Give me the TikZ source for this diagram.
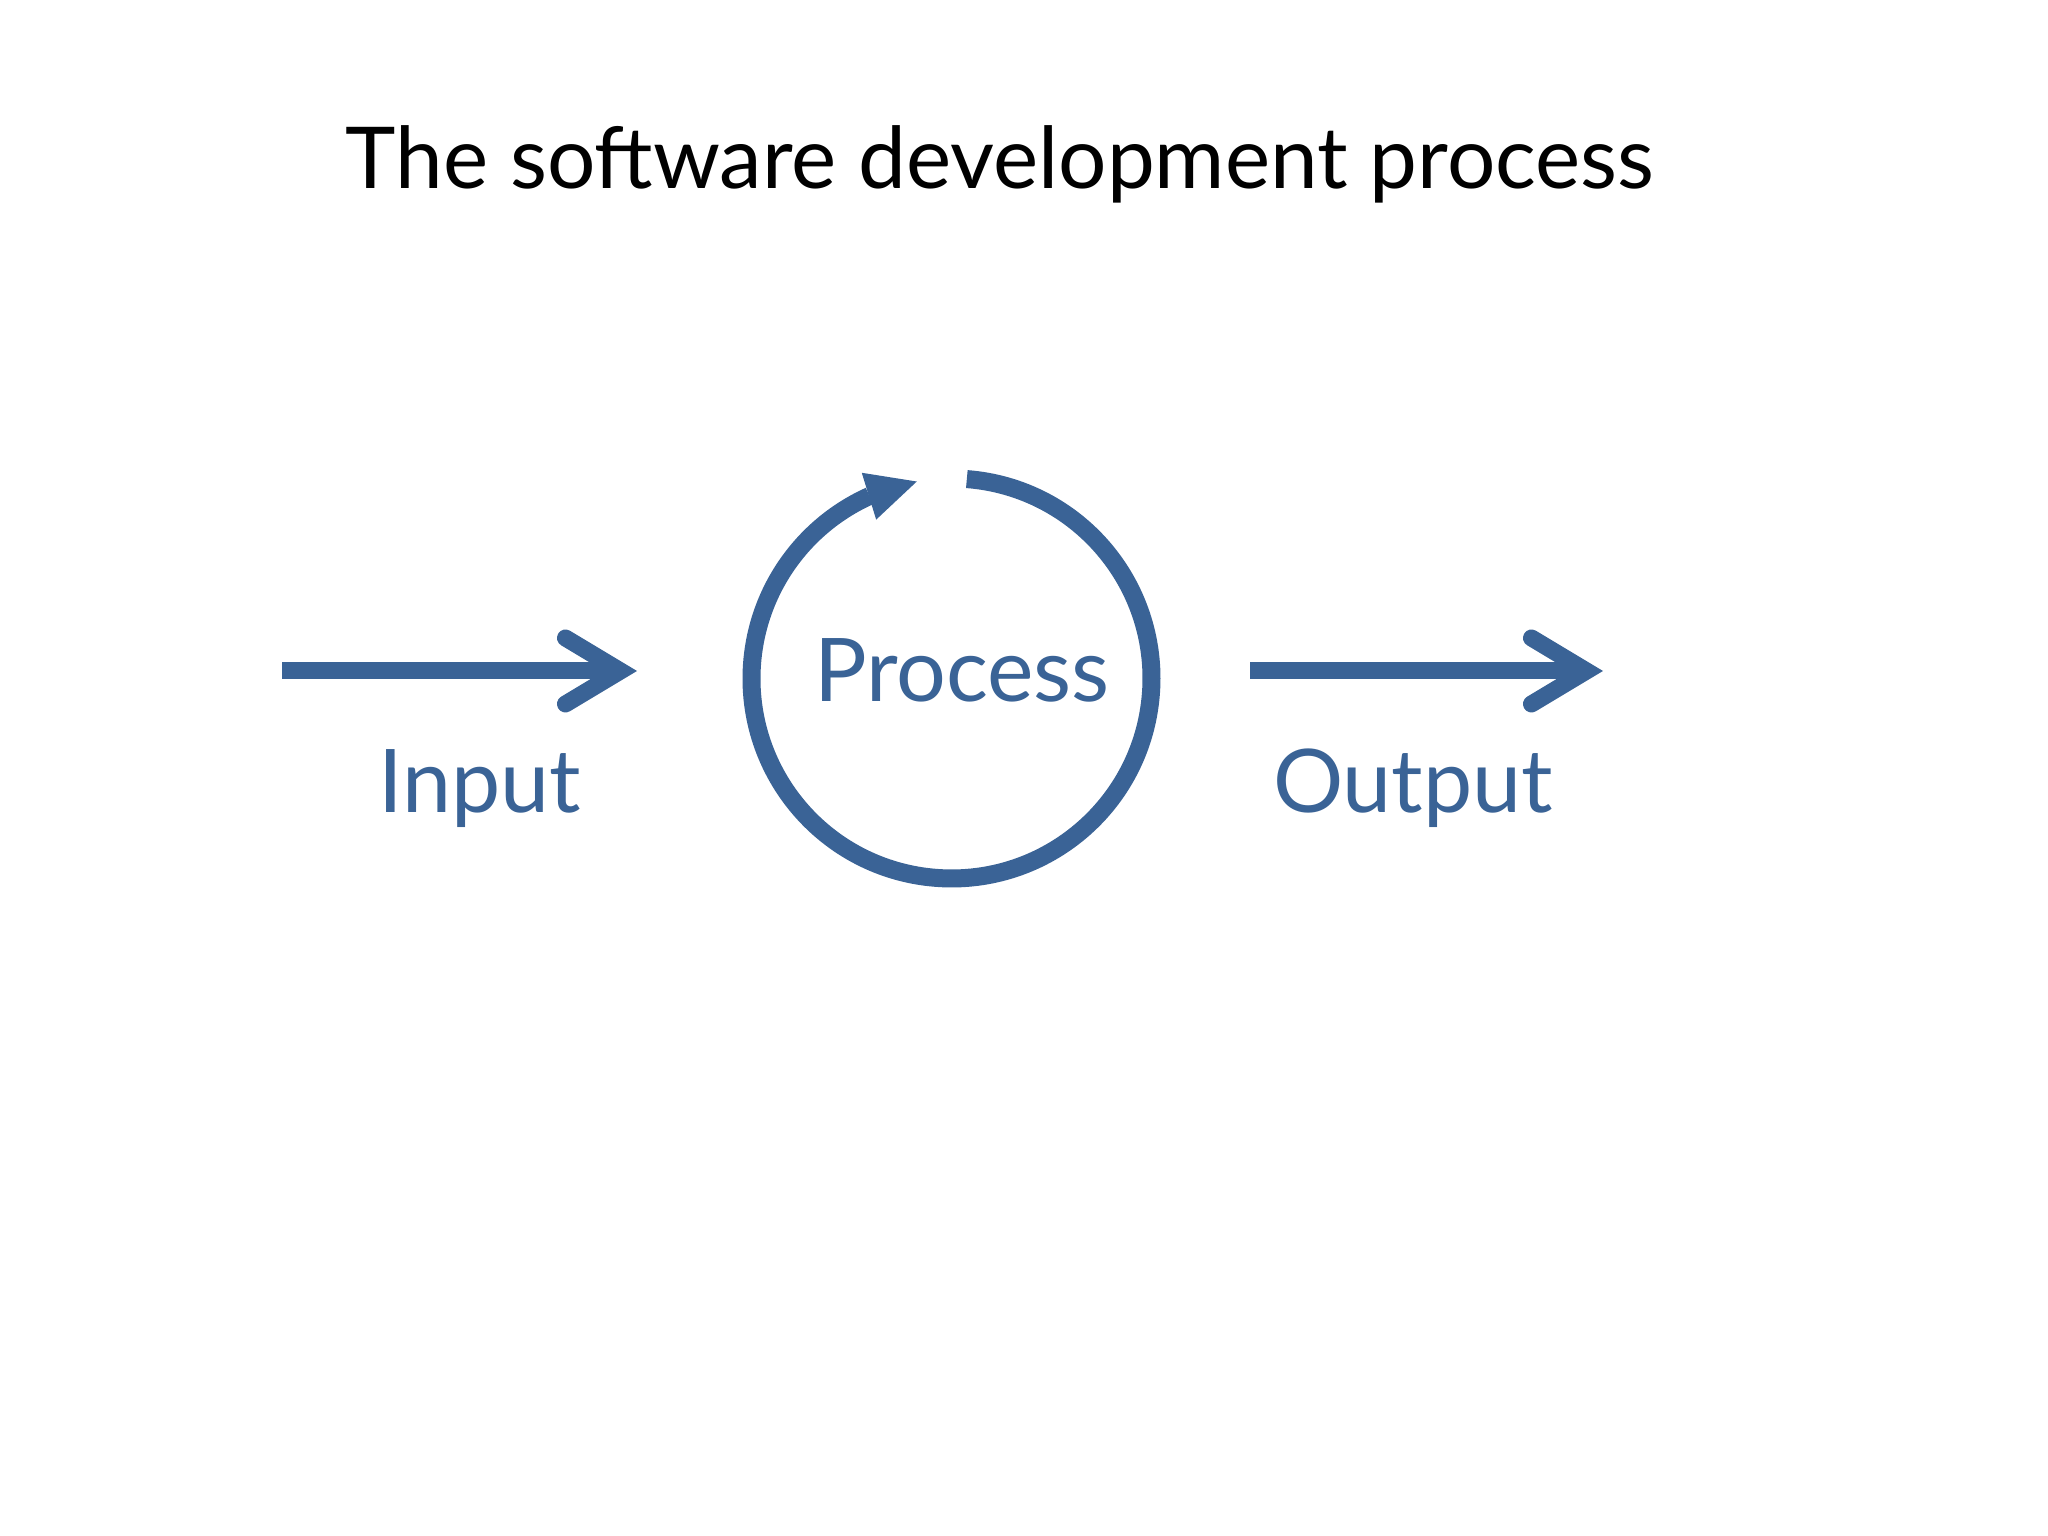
\documentclass[tikz,border=0pt]{standalone}
\usepackage{fontspec}
\setmainfont{Lato}
\usetikzlibrary{arrows.meta, bending, positioning}
\definecolor{flow}{HTML}{3A6396}
\definecolor{heading}{HTML}{000000}
\tikzset{
  flowline/.style={line width=1.7mm, draw=flow,
    -{Straight Barb[length=5.5mm, width=6.6mm, line cap=round, line join=miter]}},
  loopline/.style={line width=1.8mm, draw=flow,
    -{Triangle[flex, length=5mm, width=4.9mm, line width=0pt]}},
  flowlbl/.style={font=\fontsize{25}{30}\selectfont, text=flow, anchor=base},
  titlelbl/.style={font=\fontsize{24.3}{29}\selectfont, text=heading, anchor=base}
}

\begin{document}
\begin{tikzpicture}

  % ---- Page ----------------------------------------------------------------
  \useasboundingbox[fill=white] (0,0) rectangle (20.48,15.36);

  % ---- Title ---------------------------------------------------------------
  \node[titlelbl] (title) at (10.00, 13.47) {The software development process};

  % ---- Input ---------------------------------------------------------------
  \coordinate (in-a) at (2.82, 8.65);
  \coordinate (in-b) at (6.37, 8.65);
  \draw[flowline] (in-a) -- (in-b);
  \node[flowlbl] (input) at (4.80, 7.23) {Input};

  % ---- Process loop --------------------------------------------------------
  \coordinate (loop-c) at (9.515, 8.575);
  \draw[loopline] (loop-c) ++(85.6:2.0) arc[start angle=85.6, end angle=-260, radius=2.0];
  \node[flowlbl] (process) at (9.62, 8.34) {Process};

  % ---- Output --------------------------------------------------------------
  \coordinate (out-a) at (12.50, 8.65);
  \coordinate (out-b) at (16.03, 8.65);
  \draw[flowline] (out-a) -- (out-b);
  \node[flowlbl] (output) at (14.13, 7.23) {Output};

\end{tikzpicture}
\end{document}
